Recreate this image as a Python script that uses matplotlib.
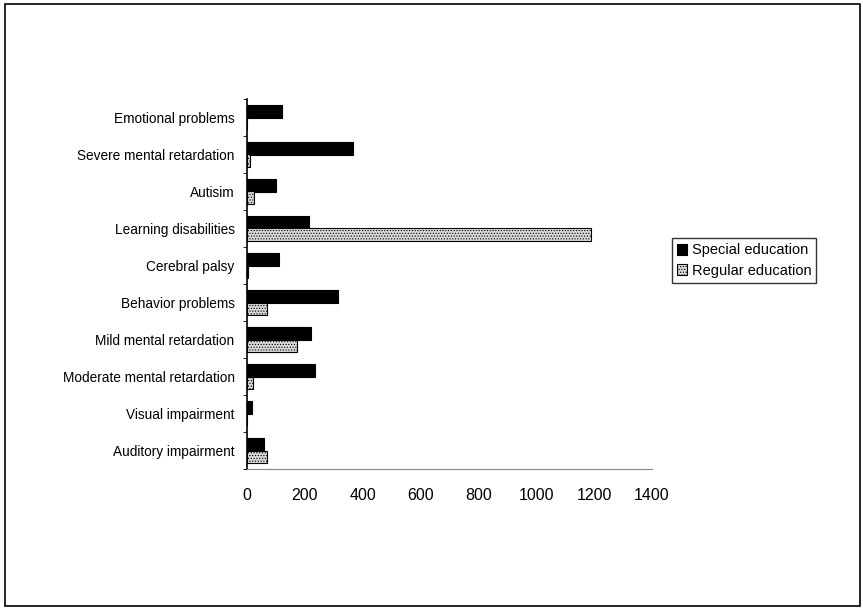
import numpy as np
import matplotlib.pyplot as plt
from matplotlib.patches import Rectangle

plt.rcParams['font.family'] = ['Liberation Sans', 'DejaVu Sans']
plt.rcParams['hatch.linewidth'] = 0.5

# categories listed bottom to top
categories = ["Auditory impairment", "Visual impairment", "Moderate mental retardation",
              "Mild mental retardation", "Behavior problems", "Cerebral palsy",
              "Learning disabilities", "Autisim", "Severe mental retardation",
              "Emotional problems"]
special = [60, 17, 235, 220, 313, 110, 213, 100, 365, 120]
regular = [68, 0, 22, 172, 70, 5, 1190, 25, 10, 0]
xticks = [0, 200, 400, 600, 800, 1000, 1200, 1400]

fig = plt.figure(figsize=(8.63, 6.11), dpi=100)
fig.patches.append(Rectangle((0.006, 0.008), 0.99, 0.985, transform=fig.transFigure,
                             fill=False, edgecolor="black", linewidth=1.2))
ax = fig.add_axes([247 / 863, 1 - 469 / 611, (652 - 247) / 863, (469 - 99) / 611])

y = np.arange(len(categories))
h = 0.33
ax.barh(y + h / 2, special, height=h, color="black", edgecolor="black",
        linewidth=0.8, label="Special education")
ax.barh(y - h / 2, regular, height=h, color="#d8d8d8", edgecolor="black",
        linewidth=0.8, hatch="......", label="Regular education")

ax.set_xlim(0, 1400)
ax.set_ylim(-0.5, len(categories) - 0.5)
ax.set_xticks(xticks)
ax.set_xticklabels([str(v) for v in xticks], fontsize=11.5)
ax.set_yticks(y)
ax.set_yticklabels(categories, fontsize=9.8)
ax.set_yticks(np.arange(len(categories) + 1) - 0.5, minor=True)
ax.tick_params(axis="y", which="major", length=0, pad=9)
ax.tick_params(axis="y", which="minor", length=3, direction="out")
ax.tick_params(axis="x", length=0, pad=14)
for s in ["top", "right"]:
    ax.spines[s].set_visible(False)
ax.spines["left"].set_linewidth(1.2)
ax.spines["bottom"].set_color("#888888")

ax.legend(loc="center left", bbox_to_anchor=(1.049, 0.563), fontsize=10.5, frameon=True,
          fancybox=False, edgecolor="black", handlelength=0.7, handleheight=0.8,
          handletextpad=0.3, borderpad=0.35, labelspacing=0.45, borderaxespad=0)

fig.savefig("out.png", dpi=100)
